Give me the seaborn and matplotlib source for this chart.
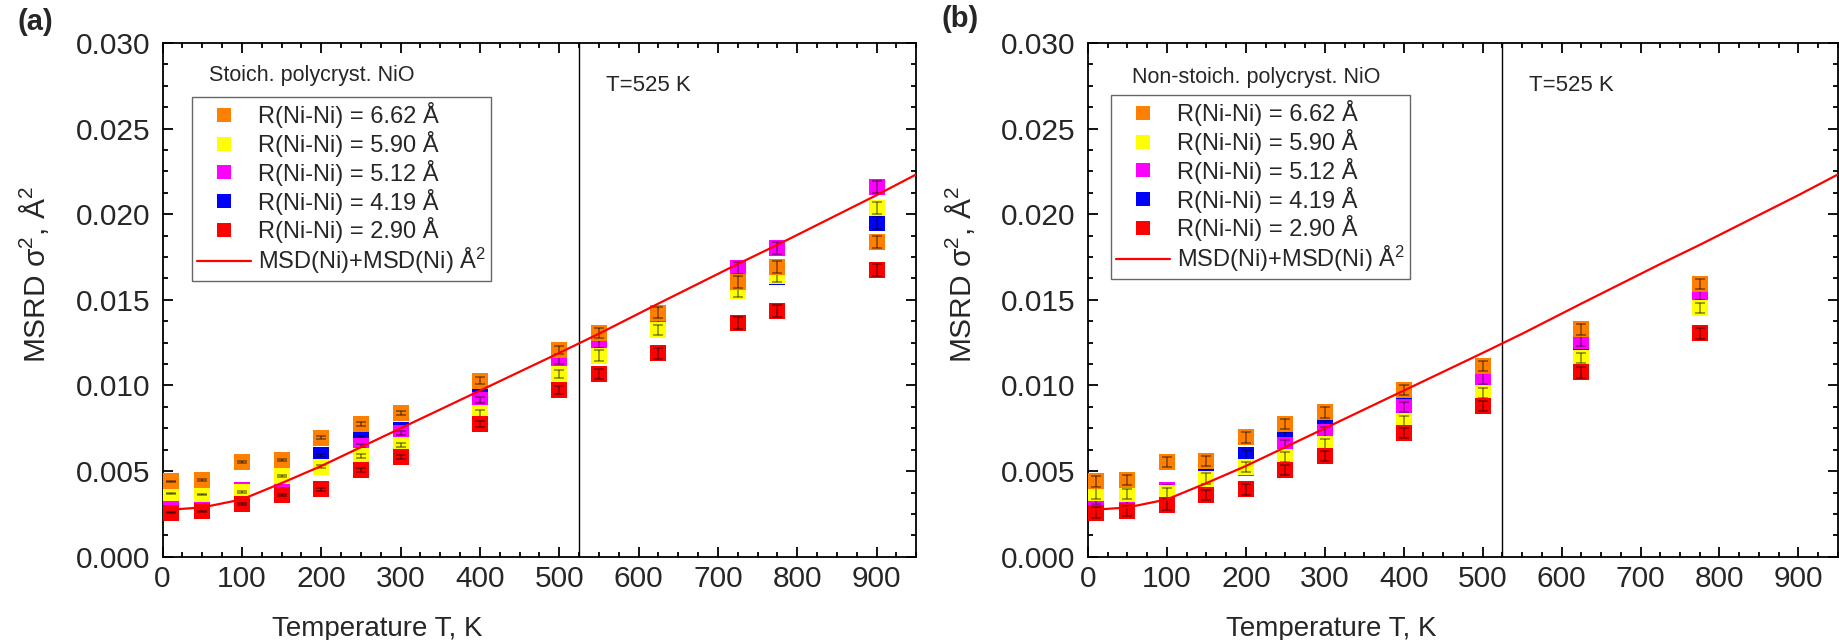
import numpy as np
import matplotlib
matplotlib.use("Agg")
import matplotlib.pyplot as plt
import seaborn as sns
from matplotlib.lines import Line2D
from matplotlib.ticker import MultipleLocator, FormatStrFormatter

# ---------------- data ----------------
series_labels = ["R(Ni-Ni) = 6.62 Å", "R(Ni-Ni) = 5.90 Å", "R(Ni-Ni) = 5.12 Å",
                 "R(Ni-Ni) = 4.19 Å", "R(Ni-Ni) = 2.90 Å"]
series_colors = ["#FF8000", "#FFFF00", "#FF00FF", "#0000FF", "#FF0000"]
line_label = "MSD(Ni)+MSD(Ni) Å$^2$"

# panel (a): stoichiometric
T_a = [10, 50, 100, 150, 200, 250, 300, 400, 500, 550, 625, 725, 775, 900]
a_662 = [0.00440, 0.00448, 0.00555, 0.00565, 0.00695, 0.00775, 0.00840, 0.01027, 0.01207, 0.01305, 0.01426, 0.01605, 0.01693, 0.01839]
a_590 = [0.00370, 0.00365, 0.00380, 0.00470, 0.00525, 0.00588, 0.00652, 0.00837, 0.01066, 0.01175, 0.01323, 0.01553, 0.01638, 0.02034]
a_512 = [0.00335, 0.00332, 0.00390, 0.00453, 0.00524, 0.00646, 0.00724, 0.00915, 0.01148, 0.01246, 0.01390, 0.01683, 0.01804, 0.02160]
a_419 = [0.00360, 0.00345, 0.00365, 0.00480, 0.00592, 0.00695, 0.00740, 0.00963, 0.01166, 0.01250, 0.01380, 0.01630, 0.01634, 0.01950]
a_290 = [0.00258, 0.00266, 0.00308, 0.00360, 0.00395, 0.00506, 0.00584, 0.00775, 0.00973, 0.01065, 0.01187, 0.01366, 0.01434, 0.01673]
err_a = [0.00004, 0.00004, 0.00005, 0.00006, 0.00008, 0.00010, 0.00012, 0.00020, 0.00025, 0.00030, 0.00030, 0.00035, 0.00035, 0.00035]

# panel (b): non-stoichiometric
T_b = [10, 50, 100, 150, 200, 250, 300, 400, 500, 625, 775]
b_662 = [0.00440, 0.00448, 0.00553, 0.00560, 0.00697, 0.00775, 0.00843, 0.00973, 0.01113, 0.01327, 0.01592]
b_590 = [0.00370, 0.00365, 0.00370, 0.00457, 0.00525, 0.00584, 0.00658, 0.00794, 0.00957, 0.01162, 0.01453]
b_512 = [0.00336, 0.00330, 0.00390, 0.00450, 0.00520, 0.00652, 0.00730, 0.00876, 0.01041, 0.01261, 0.01528]
b_419 = [0.00350, 0.00340, 0.00360, 0.00480, 0.00594, 0.00697, 0.00763, 0.00915, 0.01030, 0.01250, 0.01520]
b_290 = [0.00258, 0.00266, 0.00305, 0.00360, 0.00393, 0.00506, 0.00588, 0.00724, 0.00880, 0.01076, 0.01304]
err_b = [0.00030, 0.00030, 0.00030, 0.00030, 0.00030, 0.00030, 0.00030, 0.00030, 0.00030, 0.00030, 0.00030]

# MSD(Ni)+MSD(Ni) curve (same in both panels)
T_msd = [0, 50, 100, 150, 200, 250, 300, 400, 500, 550, 625, 725, 775, 900, 950]
msd = [0.00272, 0.00288, 0.00335, 0.00430, 0.00530, 0.00640, 0.00750, 0.00970, 0.01190, 0.01302, 0.01478, 0.01709, 0.01821, 0.02111, 0.02232]

T_transition = 525
titles = ["Stoich. polycryst. NiO", "Non-stoich. polycryst. NiO"]
panel_tags = ["(a)", "(b)"]

# ---------------- style ----------------
sns.set_theme(style="ticks")
plt.rcParams["font.family"] = ["Liberation Sans", "DejaVu Sans"]
plt.rcParams["mathtext.fontset"] = "custom"
plt.rcParams["mathtext.rm"] = "Liberation Sans"
plt.rcParams["mathtext.it"] = "Liberation Sans:italic"
plt.rcParams["mathtext.bf"] = "Liberation Sans:bold"

fig = plt.figure(figsize=(18.39, 6.4), dpi=100)
ax_a = fig.add_axes([0.0884, 0.130, 0.4098, 0.803])
ax_b = fig.add_axes([0.5916, 0.130, 0.4078, 0.803])

# drawing order (bottom -> top): blue, magenta, yellow, orange, red
draw_order = [3, 2, 1, 0, 4]

panels = [
    (ax_a, T_a, [a_662, a_590, a_512, a_419, a_290], err_a, titles[0], 0.285, (0.039, 0.894), (0.061, 0.937)),
    (ax_b, T_b, [b_662, b_590, b_512, b_419, b_290], err_b, titles[1], 0.324, (0.031, 0.898), (0.059, 0.933)),
]

for ax, T, vals, err, title, xlab_x, leg_anchor, title_pos in panels:
    for z, i in enumerate(draw_order):
        sns.scatterplot(x=T, y=vals[i], ax=ax, marker="s", s=118,
                        color=series_colors[i], linewidth=0, legend=False,
                        zorder=3 + z)
        ax.errorbar(T, vals[i], yerr=err, fmt="none", ecolor="black",
                    alpha=0.45, elinewidth=1.2, capsize=3.6, capthick=1.2,
                    zorder=3.5 + z)
    sns.lineplot(x=T_msd, y=msd, ax=ax, color="red", linewidth=1.6,
                 sort=False, legend=False, zorder=20)
    ax.axvline(T_transition, color="black", linewidth=1.0, zorder=2)
    ax.text(559, 0.0275, f"T={T_transition} K", fontsize=16, va="center", ha="left")

    ax.set_xlim(0, 950)
    ax.set_ylim(0, 0.030)
    ax.xaxis.set_major_locator(MultipleLocator(100))
    ax.xaxis.set_minor_locator(MultipleLocator(25))
    ax.yaxis.set_major_locator(MultipleLocator(0.005))
    ax.yaxis.set_minor_locator(MultipleLocator(0.00125))
    ax.yaxis.set_major_formatter(FormatStrFormatter("%.3f"))
    ax.set_xticks(range(0, 1000, 100))
    ax.set_xticklabels([str(v) for v in range(0, 1000, 100)])
    ax.tick_params(which="both", direction="in", top=True, right=True,
                   width=1.3, color="black")
    ax.tick_params(which="major", length=7.2, labelsize=21.5)
    ax.tick_params(which="minor", length=3.6)
    ax.tick_params(axis="x", which="major", pad=6)
    ax.tick_params(axis="y", which="major", pad=9)
    for sp in ax.spines.values():
        sp.set_visible(True)
        sp.set_linewidth(1.3)
        sp.set_color("black")

    ax.set_xlabel("Temperature T, K", fontsize=20)
    ax.set_ylabel("MSRD σ$^2$, Å$^2$", fontsize=21.5)
    ax.xaxis.set_label_coords(xlab_x, -0.115)
    ax.yaxis.set_label_coords(-0.148, 0.55)

    handles = [Line2D([], [], marker="s", linestyle="none", color=c,
                      markersize=9.5, markeredgewidth=0) for c in series_colors]
    handles.append(Line2D([], [], color="red", linewidth=1.6))
    leg = ax.legend(handles, series_labels + [line_label], loc="upper left",
                    bbox_to_anchor=leg_anchor, borderaxespad=0, fontsize=17,
                    frameon=True, fancybox=False, framealpha=1,
                    edgecolor="#666666", handlelength=2.3, handletextpad=0.3,
                    labelspacing=0.12, borderpad=0.2)
    leg.get_frame().set_linewidth(1.0)
    leg.set_zorder(30)
    ax.text(title_pos[0], title_pos[1], title, transform=ax.transAxes,
            fontsize=15.5, va="center", ha="left")

fig.text(0.019, 0.966, panel_tags[0], fontsize=21, fontweight="bold", ha="center", va="center")
fig.text(0.522, 0.970, panel_tags[1], fontsize=21, fontweight="bold", ha="center", va="center")

fig.savefig("out.png", dpi=100)
